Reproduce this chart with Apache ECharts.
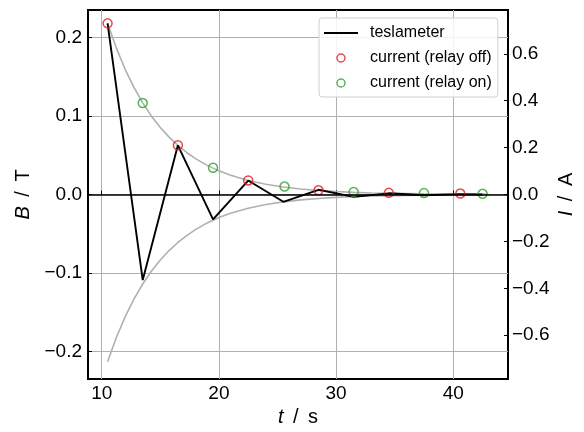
<!DOCTYPE html>
<html>
<head>
<meta charset="utf-8">
<script src="https://cdn.jsdelivr.net/npm/echarts@6/dist/echarts.min.js"></script>
<style>
html,body{margin:0;padding:0;background:#fff;}
#main{width:584px;height:432px;}
</style>
</head>
<body>
<div id="main"></div>
<script>
// teslameter (B, left axis)
var tMeas = [10.5, 13.5, 16.5, 19.5, 22.5, 25.5, 28.5, 31.5, 34.5, 37.5, 40.5, 42.5];
var bMeas = [0.218, -0.109, 0.0626, -0.0318, 0.0178, -0.0093, 0.006, -0.003, 0.0015, -0.001, 0.0005, 0.0];
// current, relay off / on (I, right axis)
var tOff = [10.5, 16.5, 22.5, 28.5, 34.5, 40.6];
var iOff = [0.73, 0.21, 0.06, 0.018, 0.007, 0.004];
var tOn = [13.5, 19.5, 25.6, 31.5, 37.5, 42.5];
var iOn = [0.39, 0.114, 0.034, 0.011, 0.006, 0.003];
// grey envelope curves (B)
var tEnv = [10.5, 11.25, 12, 12.75, 13.5, 14.25, 15, 15.75, 16.5, 17.25, 18, 19, 20, 21, 22.5, 24, 25.5, 27, 28.5, 30, 31.5, 33, 34.5, 37.5, 40.5, 43];
var envUp = [0.218, 0.1865, 0.1595, 0.1365, 0.1167, 0.0998, 0.0854, 0.0731, 0.0625, 0.0535, 0.0457, 0.0371, 0.0301, 0.0245, 0.0179, 0.0131, 0.0096, 0.0070, 0.0051, 0.0038, 0.0027, 0.0020, 0.0015, 0.0008, 0.0004, 0.0002];
var envLow = [-0.213, -0.1822, -0.1558, -0.1333, -0.1140, -0.0975, -0.0834, -0.0714, -0.0611, -0.0523, -0.0447, -0.0362, -0.0294, -0.0239, -0.0175, -0.0128, -0.0094, -0.0068, -0.0050, -0.0037, -0.0026, -0.0020, -0.0014, -0.0008, -0.0004, -0.0002];
// ticks
var xTicks = [10, 20, 30, 40];
var bTicks = [-0.2, -0.1, 0, 0.1, 0.2];
var iTicks = [-0.6, -0.4, -0.2, 0, 0.2, 0.4, 0.6];

function pairs(xs, ys){
	var out = [];
	for(var k=0;k<xs.length;k++){ out.push([xs[k], ys[k]]); }
	return out;
}
function fmt(v){
	return (v < -1e-9 ? '\u2212' : '') + Math.abs(v).toFixed(1);
}

var FONT = 'Liberation Sans';
var nameStyle = { fontFamily: FONT, fontSize: 20, color: '#000', rich: { i: { fontStyle: 'italic', fontFamily: FONT, fontSize: 20, color: '#000' } } };
var chart = echarts.init(document.getElementById('main'));
var option = {
	backgroundColor: '#fff',
	animation: false,
	grid: {
		left: 88, right: 76, top: 10, bottom: 53,
		containLabel: false, outerBoundsMode: 'none',
		show: true, borderColor: '#000', borderWidth: 2, backgroundColor: 'transparent'
	},
	legend: {
		orient: 'vertical',
		left: 319, top: 18,
		padding: [7, 6, 6, 5],
		itemWidth: 34, itemHeight: 8, itemGap: 9,
		backgroundColor: 'rgba(255,255,255,0.85)',
		borderColor: '#d0d0d0', borderWidth: 1, borderRadius: 3,
		textStyle: { fontFamily: FONT, fontSize: 16, color: '#000', padding: [0, 0, 0, 7] },
		data: [
			{ name: 'teslameter', icon: 'path://M0,0 L34,0 L34,2 L0,2 Z', itemStyle: { color: '#000', borderWidth: 0 } },
			{ name: 'current (relay off)', icon: 'circle', itemStyle: { color: 'transparent', borderColor: '#e41a1c', borderWidth: 1.5 } },
			{ name: 'current (relay on)', icon: 'circle', itemStyle: { color: 'transparent', borderColor: '#2ca02c', borderWidth: 1.5 } }
		]
	},
	xAxis: {
		type: 'value', min: 8.83, max: 44.67,
		name: '{i|t} \u2009/\u2009 s', nameLocation: 'middle', nameGap: 24,
		nameTextStyle: nameStyle,
		axisLine: { show: false },
		axisTick: { inside: true, length: 4, lineStyle: { color: '#000' }, customValues: xTicks },
		axisLabel: { fontFamily: FONT, fontSize: 19, color: '#000', margin: 5, customValues: xTicks },
		splitLine: { show: true, lineStyle: { color: '#b0b0b0', width: 1 } }
	},
	yAxis: [{
		type: 'value', min: -0.235, max: 0.235,
		name: '{i|B} \u2009/\u2009 T', nameLocation: 'middle', nameGap: 55, nameRotate: 90,
		nameTextStyle: nameStyle,
		axisLine: { show: false },
		axisTick: { inside: true, length: 4, lineStyle: { color: '#000' }, customValues: bTicks },
		axisLabel: { fontFamily: FONT, fontSize: 19, color: '#000', margin: 6, formatter: fmt, customValues: bTicks },
		splitLine: { show: true, lineStyle: { color: '#b0b0b0', width: 1 } }
	}, {
		type: 'value', min: -0.787, max: 0.787, position: 'right',
		name: '{i|I} \u2009/\u2009 A', nameLocation: 'middle', nameGap: 48, nameRotate: 90,
		nameMoveOverlap: false,
		nameTextStyle: nameStyle,
		axisLine: { show: false },
		axisTick: { inside: true, length: 4, lineStyle: { color: '#000' }, customValues: iTicks },
		axisLabel: { fontFamily: FONT, fontSize: 19, color: '#000', margin: 4, formatter: fmt, customValues: iTicks },
		splitLine: { show: false }
	}],
	series: [{
		name: 'envUp', type: 'line', data: pairs(tEnv, envUp), smooth: false,
		symbol: 'none', lineStyle: { color: '#b0b0b0', width: 1.6 }, z: 1, silent: true
	}, {
		name: 'envLow', type: 'line', data: pairs(tEnv, envLow), smooth: false,
		symbol: 'none', lineStyle: { color: '#b0b0b0', width: 1.6 }, z: 1, silent: true
	}, {
		name: 'teslameter', type: 'line', data: pairs(tMeas, bMeas),
		symbol: 'none', itemStyle: { color: '#000' }, lineStyle: { color: '#000', width: 1.9 }, z: 3,
		markLine: {
			silent: true, symbol: 'none', label: { show: false },
			lineStyle: { color: '#000', width: 1.6, type: 'solid' },
			data: [{ yAxis: 0 }]
		}
	}, {
		name: 'current (relay off)', type: 'scatter', yAxisIndex: 1, data: pairs(tOff, iOff),
		symbol: 'circle', symbolSize: 9,
		itemStyle: { color: 'transparent', borderColor: '#e41a1c', borderWidth: 1.5 }, z: 4
	}, {
		name: 'current (relay on)', type: 'scatter', yAxisIndex: 1, data: pairs(tOn, iOn),
		symbol: 'circle', symbolSize: 9,
		itemStyle: { color: 'transparent', borderColor: '#2ca02c', borderWidth: 1.5 }, z: 4
	}]
};
chart.setOption(option);
</script>
</body>
</html>
